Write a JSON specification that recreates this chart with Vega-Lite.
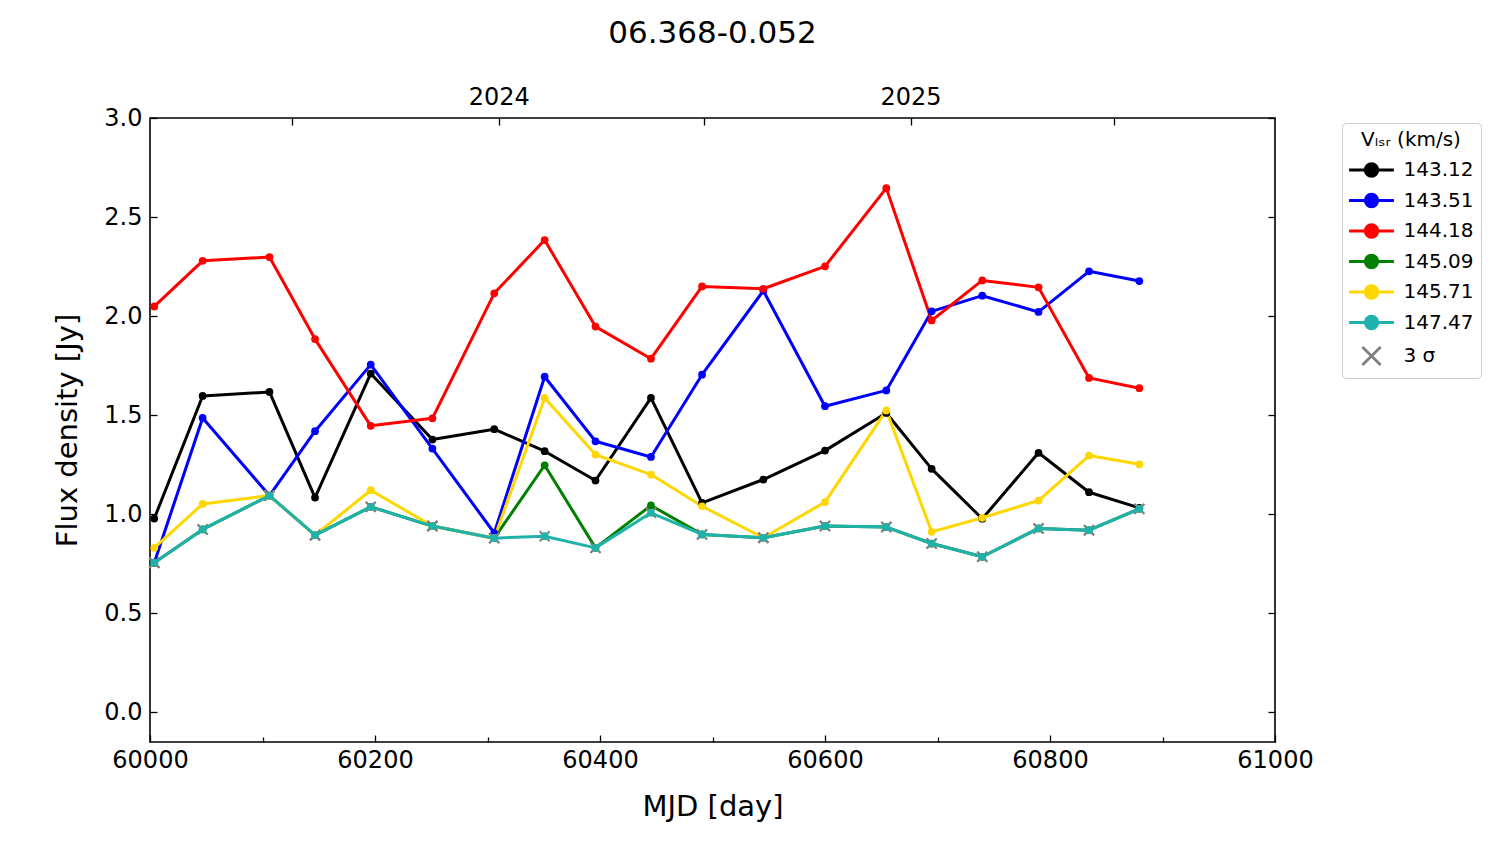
{
  "$schema": "https://vega.github.io/schema/vega-lite/v6.json",
  "description": "Flux density of 06.368-0.052 per velocity channel",
  "width": 1125,
  "height": 624,
  "autosize": {"type": "none"},
  "padding": {"left": 150, "top": 118, "right": 225, "bottom": 102},
  "title": {"text": "06.368-0.052", "fontSize": 31, "fontWeight": "normal", "font": "DejaVu Sans", "color": "black", "offset": 35},
  "config": {
    "font": "DejaVu Sans",
    "view": {"stroke": "black", "strokeWidth": 1.6},
    "axis": {
      "domain": false, "grid": false, "tickColor": "black", "tickWidth": 1.3,
      "labelFont": "DejaVu Sans", "labelFontSize": 24, "labelColor": "black",
      "labelFlush": false, "labelOverlap": false, "labelBound": false,
      "titleFont": "DejaVu Sans", "titleFontSize": 29, "titleFontWeight": "normal", "titleColor": "black"
    }
  },
  "data": {
    "values": [
      {"mjd": 60003.8, "vlsr": "143.12", "flux": 0.978, "limit": false},
      {"mjd": 60046.8, "vlsr": "143.12", "flux": 1.597, "limit": false},
      {"mjd": 60106.2, "vlsr": "143.12", "flux": 1.617, "limit": false},
      {"mjd": 60146.7, "vlsr": "143.12", "flux": 1.084, "limit": false},
      {"mjd": 60196.2, "vlsr": "143.12", "flux": 1.710, "limit": false},
      {"mjd": 60251.0, "vlsr": "143.12", "flux": 1.377, "limit": false},
      {"mjd": 60306.0, "vlsr": "143.12", "flux": 1.429, "limit": false},
      {"mjd": 60350.8, "vlsr": "143.12", "flux": 1.318, "limit": false},
      {"mjd": 60396.0, "vlsr": "143.12", "flux": 1.170, "limit": false},
      {"mjd": 60445.3, "vlsr": "143.12", "flux": 1.587, "limit": false},
      {"mjd": 60490.7, "vlsr": "143.12", "flux": 1.057, "limit": false},
      {"mjd": 60545.2, "vlsr": "143.12", "flux": 1.175, "limit": false},
      {"mjd": 60600.0, "vlsr": "143.12", "flux": 1.321, "limit": false},
      {"mjd": 60654.5, "vlsr": "143.12", "flux": 1.511, "limit": false},
      {"mjd": 60694.8, "vlsr": "143.12", "flux": 1.229, "limit": false},
      {"mjd": 60739.8, "vlsr": "143.12", "flux": 0.977, "limit": false},
      {"mjd": 60789.8, "vlsr": "143.12", "flux": 1.310, "limit": false},
      {"mjd": 60834.7, "vlsr": "143.12", "flux": 1.111, "limit": false},
      {"mjd": 60879.4, "vlsr": "143.12", "flux": 1.032, "limit": false},

      {"mjd": 60003.8, "vlsr": "143.51", "flux": 0.755, "limit": true},
      {"mjd": 60046.8, "vlsr": "143.51", "flux": 1.486, "limit": false},
      {"mjd": 60106.2, "vlsr": "143.51", "flux": 1.094, "limit": true},
      {"mjd": 60146.7, "vlsr": "143.51", "flux": 1.419, "limit": false},
      {"mjd": 60196.2, "vlsr": "143.51", "flux": 1.755, "limit": false},
      {"mjd": 60251.0, "vlsr": "143.51", "flux": 1.331, "limit": false},
      {"mjd": 60306.0, "vlsr": "143.51", "flux": 0.905, "limit": false},
      {"mjd": 60350.8, "vlsr": "143.51", "flux": 1.694, "limit": false},
      {"mjd": 60396.0, "vlsr": "143.51", "flux": 1.368, "limit": false},
      {"mjd": 60445.3, "vlsr": "143.51", "flux": 1.289, "limit": false},
      {"mjd": 60490.7, "vlsr": "143.51", "flux": 1.704, "limit": false},
      {"mjd": 60545.2, "vlsr": "143.51", "flux": 2.128, "limit": false},
      {"mjd": 60600.0, "vlsr": "143.51", "flux": 1.545, "limit": false},
      {"mjd": 60654.5, "vlsr": "143.51", "flux": 1.625, "limit": false},
      {"mjd": 60694.8, "vlsr": "143.51", "flux": 2.024, "limit": false},
      {"mjd": 60739.8, "vlsr": "143.51", "flux": 2.103, "limit": false},
      {"mjd": 60789.8, "vlsr": "143.51", "flux": 2.021, "limit": false},
      {"mjd": 60834.7, "vlsr": "143.51", "flux": 2.226, "limit": false},
      {"mjd": 60879.4, "vlsr": "143.51", "flux": 2.177, "limit": false},

      {"mjd": 60003.8, "vlsr": "144.18", "flux": 2.049, "limit": false},
      {"mjd": 60046.8, "vlsr": "144.18", "flux": 2.279, "limit": false},
      {"mjd": 60106.2, "vlsr": "144.18", "flux": 2.298, "limit": false},
      {"mjd": 60146.7, "vlsr": "144.18", "flux": 1.884, "limit": false},
      {"mjd": 60196.2, "vlsr": "144.18", "flux": 1.446, "limit": false},
      {"mjd": 60251.0, "vlsr": "144.18", "flux": 1.484, "limit": false},
      {"mjd": 60306.0, "vlsr": "144.18", "flux": 2.115, "limit": false},
      {"mjd": 60350.8, "vlsr": "144.18", "flux": 2.384, "limit": false},
      {"mjd": 60396.0, "vlsr": "144.18", "flux": 1.947, "limit": false},
      {"mjd": 60445.3, "vlsr": "144.18", "flux": 1.785, "limit": false},
      {"mjd": 60490.7, "vlsr": "144.18", "flux": 2.150, "limit": false},
      {"mjd": 60545.2, "vlsr": "144.18", "flux": 2.138, "limit": false},
      {"mjd": 60600.0, "vlsr": "144.18", "flux": 2.251, "limit": false},
      {"mjd": 60654.5, "vlsr": "144.18", "flux": 2.646, "limit": false},
      {"mjd": 60694.8, "vlsr": "144.18", "flux": 1.978, "limit": false},
      {"mjd": 60739.8, "vlsr": "144.18", "flux": 2.180, "limit": false},
      {"mjd": 60789.8, "vlsr": "144.18", "flux": 2.145, "limit": false},
      {"mjd": 60834.7, "vlsr": "144.18", "flux": 1.688, "limit": false},
      {"mjd": 60879.4, "vlsr": "144.18", "flux": 1.636, "limit": false},

      {"mjd": 60003.8, "vlsr": "145.09", "flux": 0.755, "limit": true},
      {"mjd": 60046.8, "vlsr": "145.09", "flux": 0.923, "limit": true},
      {"mjd": 60106.2, "vlsr": "145.09", "flux": 1.094, "limit": true},
      {"mjd": 60146.7, "vlsr": "145.09", "flux": 0.894, "limit": true},
      {"mjd": 60196.2, "vlsr": "145.09", "flux": 1.037, "limit": true},
      {"mjd": 60251.0, "vlsr": "145.09", "flux": 0.940, "limit": true},
      {"mjd": 60306.0, "vlsr": "145.09", "flux": 0.879, "limit": true},
      {"mjd": 60350.8, "vlsr": "145.09", "flux": 1.247, "limit": false},
      {"mjd": 60396.0, "vlsr": "145.09", "flux": 0.830, "limit": true},
      {"mjd": 60445.3, "vlsr": "145.09", "flux": 1.044, "limit": false},
      {"mjd": 60490.7, "vlsr": "145.09", "flux": 0.898, "limit": true},
      {"mjd": 60545.2, "vlsr": "145.09", "flux": 0.881, "limit": true},
      {"mjd": 60600.0, "vlsr": "145.09", "flux": 0.940, "limit": true},
      {"mjd": 60654.5, "vlsr": "145.09", "flux": 0.935, "limit": true},
      {"mjd": 60694.8, "vlsr": "145.09", "flux": 0.852, "limit": true},
      {"mjd": 60739.8, "vlsr": "145.09", "flux": 0.785, "limit": true},
      {"mjd": 60789.8, "vlsr": "145.09", "flux": 0.928, "limit": true},
      {"mjd": 60834.7, "vlsr": "145.09", "flux": 0.919, "limit": true},
      {"mjd": 60879.4, "vlsr": "145.09", "flux": 1.027, "limit": true},

      {"mjd": 60003.8, "vlsr": "145.71", "flux": 0.830, "limit": false},
      {"mjd": 60046.8, "vlsr": "145.71", "flux": 1.052, "limit": false},
      {"mjd": 60106.2, "vlsr": "145.71", "flux": 1.094, "limit": true},
      {"mjd": 60146.7, "vlsr": "145.71", "flux": 0.894, "limit": true},
      {"mjd": 60196.2, "vlsr": "145.71", "flux": 1.121, "limit": false},
      {"mjd": 60251.0, "vlsr": "145.71", "flux": 0.940, "limit": true},
      {"mjd": 60306.0, "vlsr": "145.71", "flux": 0.879, "limit": true},
      {"mjd": 60350.8, "vlsr": "145.71", "flux": 1.587, "limit": false},
      {"mjd": 60396.0, "vlsr": "145.71", "flux": 1.301, "limit": false},
      {"mjd": 60445.3, "vlsr": "145.71", "flux": 1.200, "limit": false},
      {"mjd": 60490.7, "vlsr": "145.71", "flux": 1.040, "limit": false},
      {"mjd": 60545.2, "vlsr": "145.71", "flux": 0.881, "limit": true},
      {"mjd": 60600.0, "vlsr": "145.71", "flux": 1.061, "limit": false},
      {"mjd": 60654.5, "vlsr": "145.71", "flux": 1.524, "limit": false},
      {"mjd": 60694.8, "vlsr": "145.71", "flux": 0.911, "limit": false},
      {"mjd": 60739.8, "vlsr": "145.71", "flux": 0.982, "limit": false},
      {"mjd": 60789.8, "vlsr": "145.71", "flux": 1.069, "limit": false},
      {"mjd": 60834.7, "vlsr": "145.71", "flux": 1.296, "limit": false},
      {"mjd": 60879.4, "vlsr": "145.71", "flux": 1.252, "limit": false},

      {"mjd": 60003.8, "vlsr": "147.47", "flux": 0.755, "limit": true},
      {"mjd": 60046.8, "vlsr": "147.47", "flux": 0.923, "limit": true},
      {"mjd": 60106.2, "vlsr": "147.47", "flux": 1.094, "limit": true},
      {"mjd": 60146.7, "vlsr": "147.47", "flux": 0.894, "limit": true},
      {"mjd": 60196.2, "vlsr": "147.47", "flux": 1.037, "limit": true},
      {"mjd": 60251.0, "vlsr": "147.47", "flux": 0.940, "limit": true},
      {"mjd": 60306.0, "vlsr": "147.47", "flux": 0.879, "limit": true},
      {"mjd": 60350.8, "vlsr": "147.47", "flux": 0.889, "limit": true},
      {"mjd": 60396.0, "vlsr": "147.47", "flux": 0.830, "limit": true},
      {"mjd": 60445.3, "vlsr": "147.47", "flux": 1.007, "limit": true},
      {"mjd": 60490.7, "vlsr": "147.47", "flux": 0.898, "limit": true},
      {"mjd": 60545.2, "vlsr": "147.47", "flux": 0.881, "limit": true},
      {"mjd": 60600.0, "vlsr": "147.47", "flux": 0.940, "limit": true},
      {"mjd": 60654.5, "vlsr": "147.47", "flux": 0.935, "limit": true},
      {"mjd": 60694.8, "vlsr": "147.47", "flux": 0.852, "limit": true},
      {"mjd": 60739.8, "vlsr": "147.47", "flux": 0.785, "limit": true},
      {"mjd": 60789.8, "vlsr": "147.47", "flux": 0.928, "limit": true},
      {"mjd": 60834.7, "vlsr": "147.47", "flux": 0.919, "limit": true},
      {"mjd": 60879.4, "vlsr": "147.47", "flux": 1.027, "limit": true}
    ]
  },
  "resolve": {"axis": {"x": "independent", "y": "independent"}},
  "layer": [
    {
      "transform": [{"filter": "datum.vlsr !== '147.47'"}],
      "mark": {"type": "line", "strokeWidth": 3, "strokeJoin": "round"},
      "encoding": {
        "x": {
          "field": "mjd", "type": "quantitative",
          "scale": {"domain": [60000, 61000], "nice": false, "zero": false},
          "axis": {"orient": "bottom", "title": "MJD [day]", "values": [60000, 60200, 60400, 60600, 60800, 61000], "format": "d", "tickSize": -7, "labelPadding": 13, "titlePadding": 20}
        },
        "y": {
          "field": "flux", "type": "quantitative",
          "scale": {"domain": [-0.15, 3.0], "nice": false, "zero": false},
          "axis": {"orient": "left", "title": "Flux density [Jy]", "values": [0, 0.5, 1, 1.5, 2, 2.5, 3], "format": ".1f", "tickSize": -7, "labelPadding": 15, "titlePadding": 21}
        },
        "color": {
          "field": "vlsr", "type": "nominal",
          "scale": {
            "domain": ["143.12", "143.51", "144.18", "145.09", "145.71", "147.47", "3 σ"],
            "range": ["#000000", "#0000ff", "#ff0000", "#008000", "#ffd700", "#20b2aa", "#808080"]
          },
          "legend": {
            "orient": "none", "legendX": 1192, "legendY": 5,
            "title": "Vₗₛᵣ (km/s)", "titleFontSize": 20, "titleFontWeight": "normal", "titleColor": "black", "titleAnchor": "middle", "titlePadding": 10,
            "labelFontSize": 20, "labelColor": "black",
            "strokeColor": "#cccccc", "fillColor": "white", "cornerRadius": 4, "padding": 7,
            "symbolSize": 196, "symbolOffset": 12.5, "labelOffset": 22, "rowPadding": 6.5,
            "encode": {
              "symbols": {
                "update": {
                  "shape": {"signal": "datum.value === '3 σ' ? 'M-1.3,-1.3L1.3,1.3M1.3,-1.3L-1.3,1.3' : 'M-3.2,0L3.2,0M-0.9,0A0.9,0.9 0 1 1 0.9,0A0.9,0.9 0 1 1 -0.9,0Z'"},
                  "fill": {"signal": "datum.value === '3 σ' ? 'transparent' : scale('color', datum.value)"},
                  "stroke": {"signal": "scale('color', datum.value)"},
                  "strokeWidth": {"value": 2.8},
                  "opacity": {"value": 1}
                }
              }
            }
          }
        }
      }
    },
    {
      "transform": [{"filter": "datum.vlsr !== '147.47'"}],
      "mark": {"type": "point", "filled": true, "size": 60, "opacity": 1},
      "encoding": {
        "x": {
          "field": "mjd", "type": "quantitative",
          "axis": {"orient": "bottom", "title": null, "values": [60100, 60300, 60500, 60700, 60900], "labels": false, "tickSize": -5}
        },
        "y": {
          "field": "flux", "type": "quantitative",
          "axis": {"orient": "right", "title": null, "values": [0, 0.5, 1, 1.5, 2, 2.5, 3], "labels": false, "tickSize": -7}
        },
        "color": {"field": "vlsr", "type": "nominal", "legend": null}
      }
    },
    {
      "transform": [{"filter": "datum.limit"}],
      "mark": {"type": "point", "shape": "M-1,-1L1,1M1,-1L-1,1", "filled": false, "size": 100, "strokeWidth": 2, "color": "#808080", "opacity": 1},
      "encoding": {
        "x": {
          "field": "mjd", "type": "quantitative",
          "axis": {"orient": "top", "title": null, "values": [60126, 60310, 60492, 60676, 60857], "labelExpr": "datum.value === 60310 ? '2024' : datum.value === 60676 ? '2025' : ''", "tickSize": -7, "labelPadding": 16}
        },
        "y": {"field": "flux", "type": "quantitative", "axis": null}
      }
    },
    {
      "transform": [{"filter": "datum.vlsr === '147.47'"}],
      "mark": {"type": "line", "strokeWidth": 3, "strokeJoin": "round"},
      "encoding": {
        "x": {"field": "mjd", "type": "quantitative", "axis": null},
        "y": {"field": "flux", "type": "quantitative", "axis": null},
        "color": {"field": "vlsr", "type": "nominal", "legend": null}
      }
    },
    {
      "transform": [{"filter": "datum.vlsr === '147.47'"}],
      "mark": {"type": "point", "filled": true, "size": 60, "opacity": 1},
      "encoding": {
        "x": {"field": "mjd", "type": "quantitative", "axis": null},
        "y": {"field": "flux", "type": "quantitative", "axis": null},
        "color": {"field": "vlsr", "type": "nominal", "legend": null}
      }
    }
  ]
}
